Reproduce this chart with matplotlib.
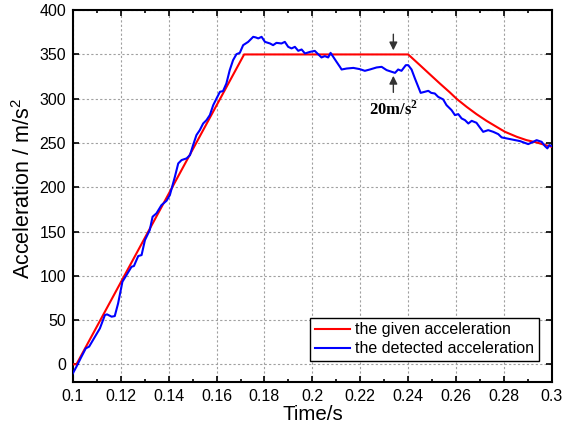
import numpy as np
import matplotlib.pyplot as plt

# ---------------------------------------------------------------------------
# Datos
# ---------------------------------------------------------------------------
# Aceleracion dada (rampa, meseta y caida)
t_given = [0.100, 0.1015, 0.1715, 0.2400, 0.2449, 0.2491, 0.2532, 0.2574,
           0.2602, 0.2644, 0.2685, 0.2727, 0.2769, 0.2804, 0.2853, 0.2894,
           0.2936, 0.2978, 0.3000]
a_given = [0.0, 0.0, 350.0, 350.0, 337.9, 327.4, 317.2, 307.1,
           299.9, 290.8, 282.6, 275.0, 268.2, 262.6, 257.0, 253.2,
           250.6, 247.2, 245.7]

# Aceleracion detectada
t_det = [0.1000, 0.1015, 0.1036, 0.1054, 0.1068, 0.1092, 0.1113, 0.1134,
         0.1143, 0.1162, 0.1175, 0.1189, 0.1207, 0.1224, 0.1245, 0.1255,
         0.1273, 0.1287, 0.1301, 0.1321, 0.1333, 0.1349, 0.1370, 0.1391,
         0.1405, 0.1426, 0.1440, 0.1454, 0.1475, 0.1489, 0.1502, 0.1516,
         0.1530, 0.1544, 0.1558, 0.1572, 0.1586, 0.1600, 0.1614, 0.1627,
         0.1641, 0.1655, 0.1669, 0.1683, 0.1697, 0.1711, 0.1732, 0.1753,
         0.1764, 0.1774, 0.1788, 0.1802, 0.1823, 0.1836, 0.1850, 0.1871,
         0.1885, 0.1899, 0.1913, 0.1927, 0.1941, 0.1955, 0.1969, 0.1990,
         0.2010, 0.2024, 0.2038, 0.2052, 0.2066, 0.2076, 0.2087, 0.2101,
         0.2115, 0.2122, 0.2143, 0.2171, 0.2198, 0.2219, 0.2240, 0.2268,
         0.2289, 0.2310, 0.2331, 0.2345, 0.2358, 0.2372, 0.2390, 0.2400,
         0.2414, 0.2428, 0.2442, 0.2452, 0.2469, 0.2484, 0.2496, 0.2511,
         0.2525, 0.2546, 0.2560, 0.2581, 0.2595, 0.2609, 0.2623, 0.2637,
         0.2651, 0.2665, 0.2685, 0.2699, 0.2713, 0.2734, 0.2755, 0.2776,
         0.2790, 0.2825, 0.2867, 0.2901, 0.2922, 0.2936, 0.2957, 0.2971,
         0.2981, 0.2989, 0.3000]
a_det = [-10.2, -2.7, 8.6, 18.0, 20.0, 31.0, 40.6, 55.7,
         56.4, 53.8, 54.5, 68.8, 93.3, 100.8, 110.2, 111.0,
         122.3, 123.4, 140.3, 151.6, 166.7, 170.5, 179.8, 184.7,
         191.1, 211.8, 226.9, 230.7, 232.6, 236.3, 247.6, 258.9,
         264.5, 272.0, 275.8, 281.5, 292.7, 300.3, 307.8, 308.6,
         317.2, 332.3, 343.6, 350.3, 351.8, 360.5, 364.2, 369.9,
         369.2, 368.1, 369.9, 364.2, 362.4, 360.5, 363.1, 362.4,
         364.2, 358.6, 356.8, 358.6, 354.1, 355.6, 351.1, 352.9,
         354.0, 350.3, 346.6, 348.1, 346.6, 351.8, 347.3, 341.6,
         336.0, 333.0, 334.1, 334.8, 333.4, 331.5, 333.0, 335.3,
         336.0, 332.3, 330.4, 329.2, 333.0, 331.5, 337.9, 337.9,
         333.0, 322.9, 313.4, 306.6, 307.8, 308.9, 306.6, 305.9,
         302.1, 299.2, 292.7, 287.1, 281.5, 282.6, 277.7, 275.8,
         272.0, 275.0, 272.8, 267.6, 262.6, 264.5, 262.6, 260.0,
         256.3, 254.4, 252.1, 248.7, 251.3, 253.2, 251.3, 246.4,
         243.9, 247.6, 246.5]

x_ticks = [0.1, 0.12, 0.14, 0.16, 0.18, 0.2, 0.22, 0.24, 0.26, 0.28, 0.3]
x_labels = ["0.1", "0.12", "0.14", "0.16", "0.18", "0.2", "0.22", "0.24",
            "0.26", "0.28", "0.3"]
y_ticks = [0, 50, 100, 150, 200, 250, 300, 350, 400]

# ---------------------------------------------------------------------------
# Figura
# ---------------------------------------------------------------------------
plt.rcParams["font.family"] = ["Liberation Sans", "DejaVu Sans"]
plt.rcParams["mathtext.fontset"] = "custom"
plt.rcParams["mathtext.rm"] = "Liberation Sans"
plt.rcParams["mathtext.it"] = "Liberation Sans"
plt.rcParams["mathtext.bf"] = "Liberation Serif:bold"

fig = plt.figure(figsize=(5.69, 4.24), dpi=100)
ax = fig.add_axes([0.128, 0.099, 0.842, 0.877])

ax.plot(t_given, a_given, color="#ff0000", lw=1.5, label="the given acceleration",
        zorder=3)
ax.plot(t_det, a_det, color="#0000ff", lw=1.5, label="the detected acceleration",
        zorder=4)

ax.set_xlim(0.1, 0.3)
ax.set_ylim(-20, 400)
ax.set_xticks(x_ticks)
ax.set_xticklabels(x_labels)
ax.set_xticks(np.arange(0.11, 0.30, 0.02), minor=True)
ax.set_yticks(y_ticks)

ax.tick_params(which="both", direction="in", top=True, right=True,
               labelsize=11.5, width=1.2, pad=5)
ax.tick_params(which="major", length=4)
ax.tick_params(which="minor", length=2.5)
for s in ax.spines.values():
    s.set_linewidth(1.5)

ax.grid(True, which="major", color="#a0a0a0", linestyle=(0, (2, 2)), lw=0.8)

ax.set_xlabel("Time/s", fontsize=14.8, labelpad=1)
ax.set_ylabel("Acceleration / m/s$^2$", fontsize=15.5)
ax.yaxis.set_label_coords(-0.078, 0.52)

# Flechas de la diferencia de 20 m/s2
ax.annotate("", xy=(0.2338, 351.5), xytext=(0.2338, 376),
            arrowprops=dict(arrowstyle="-|>", color="#333333", lw=1.0,
                            mutation_scale=12))
ax.annotate("", xy=(0.2338, 329), xytext=(0.2338, 304),
            arrowprops=dict(arrowstyle="-|>", color="#333333", lw=1.0,
                            mutation_scale=12))
ax.text(0.2338, 289, r"$\mathbf{20m/s}^{\mathbf{2}}$", ha="center", va="center",
        fontsize=12)

leg = ax.legend(loc="lower right", bbox_to_anchor=(0.973, 0.056), fontsize=11.5,
                fancybox=False, framealpha=1, edgecolor="black",
                handlelength=2.2, handletextpad=0.3, borderpad=0.3,
                labelspacing=0.25, borderaxespad=0)
leg.get_frame().set_linewidth(1.0)

plt.savefig("out.png", dpi=100)
